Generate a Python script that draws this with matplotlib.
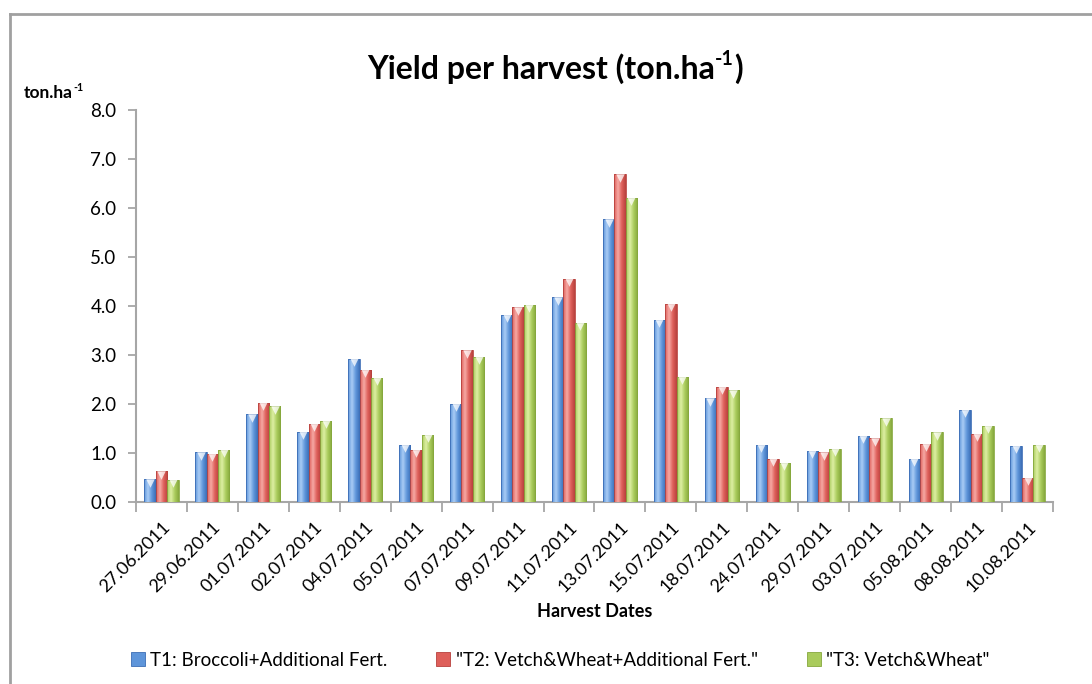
import numpy as np
import matplotlib
matplotlib.use("Agg")
import matplotlib.pyplot as plt
from matplotlib.colors import LinearSegmentedColormap
from matplotlib.patches import Rectangle
from matplotlib.lines import Line2D
from matplotlib.transforms import offset_copy

plt.rcParams['font.family'] = ['Lato', 'DejaVu Sans']

dates = ["27.06.2011", "29.06.2011", "01.07.2011", "02.07.2011", "04.07.2011",
         "05.07.2011", "07.07.2011", "09.07.2011", "11.07.2011", "13.07.2011",
         "15.07.2011", "18.07.2011", "24.07.2011", "29.07.2011", "03.07.2011",
         "05.08.2011", "08.08.2011", "10.08.2011"]
t1 = [0.46, 1.01, 1.79, 1.43, 2.92, 1.17, 2.00, 3.82, 4.18, 5.77, 3.72, 2.12, 1.17, 1.05, 1.35, 0.88, 1.88, 1.15]
t2 = [0.63, 0.98, 2.03, 1.60, 2.70, 1.07, 3.10, 3.97, 4.55, 6.69, 4.05, 2.35, 0.88, 1.01, 1.30, 1.19, 1.39, 0.49]
t3 = [0.45, 1.07, 1.95, 1.66, 2.53, 1.37, 2.96, 4.03, 3.66, 6.21, 2.56, 2.28, 0.80, 1.09, 1.71, 1.42, 1.56, 1.17]
series_names = ["T1: Broccoli+Additional Fert.",
                "\"T2: Vetch&Wheat+Additional Fert.\"",
                "\"T3: Vetch&Wheat\""]
yticks = [0, 1, 2, 3, 4, 5, 6, 7, 8]

# (dark edge, base, light highlight)
palettes = [("#3C6DB5", "#5E95DA", "#A9CCF5"),
            ("#B8413D", "#DE5F5A", "#F6A9A4"),
            ("#86A83D", "#A9CB5C", "#DDEFA3")]

fig = plt.figure(figsize=(10.92, 6.84), dpi=100)
ax = fig.add_axes([0.1245, 0.2661, 0.8398, 0.5731])

x = np.arange(len(dates))
w = 0.224
offs = [-w, 0, w]
all_series = [t1, t2, t3]

for s, (vals, pal, off) in enumerate(zip(all_series, palettes, offs)):
    dark, base, light = pal
    cmap = LinearSegmentedColormap.from_list("g%d" % s, [base, light, base, dark])
    grad = np.linspace(0, 1, 64).reshape(1, -1)
    bars = ax.bar(x + off, vals, width=w, color=base, edgecolor='none', zorder=2)
    for b in bars:
        bx, by = b.get_x(), b.get_y()
        bw, bh = b.get_width(), b.get_height()
        im = ax.imshow(grad, cmap=cmap, aspect='auto',
                       extent=(bx, bx + bw, by, by + bh), zorder=3,
                       interpolation='bilinear')
        im.set_clip_path(b)
        ax.add_patch(Rectangle((bx, by), bw, bh, fill=False,
                               edgecolor=dark, linewidth=0.6, zorder=4))
    ax.scatter(x + off, np.array(vals) - 0.07, marker='v', s=38,
               color='white', alpha=0.75, linewidths=0, zorder=5)

ax.set_xlim(-0.5, len(dates) - 0.5)
ax.set_ylim(0, 8)
ax.set_yticks(yticks)
ax.set_yticklabels(["%.1f" % v for v in yticks], fontsize=13.5)
ax.set_xticks(x)
ax.set_xticklabels(dates, rotation=45, ha='right', va='top',
                   rotation_mode='anchor', fontsize=13)
ax.set_xticks(np.arange(len(dates) + 1) - 0.5, minor=True)
ax.tick_params(axis='x', which='major', length=0, pad=12)
ax.tick_params(axis='x', which='minor', length=7, color='#A6A6A6', width=1.3)
ax.tick_params(axis='y', length=6, color='#A6A6A6', width=1.3, pad=8)
for side in ['top', 'right']:
    ax.spines[side].set_visible(False)
for side in ['left', 'bottom']:
    ax.spines[side].set_color('#A6A6A6')
    ax.spines[side].set_linewidth(1.5)

ax.set_xlabel("Harvest Dates", fontsize=13, fontweight='bold', labelpad=6)


def sup_text(xf, y, base, sup, tail, size, ha='left'):
    """Text with a small raised '-1' superscript, placed piece by piece."""
    renderer = fig.canvas.get_renderer()
    pieces = [(base, size, 0), (sup, size * 0.62, size * 0.42), (tail, size, 0)]
    widths = []
    for txt, sz, _ in pieces:
        t = fig.text(0, 0, txt, fontsize=sz, fontweight='bold')
        widths.append(t.get_window_extent(renderer).width)
        t.remove()
    total = sum(widths)
    x0 = xf * fig.bbox.width
    if ha == 'center':
        x0 -= total / 2
    cur = x0
    for (txt, sz, rise), wd in zip(pieces, widths):
        tr = offset_copy(fig.transFigure, fig=fig, x=0, y=rise, units='points')
        fig.text(cur / fig.bbox.width, y, txt, fontsize=sz, fontweight='bold',
                 ha='left', va='baseline', transform=tr)
        cur += wd


sup_text(0.508, 0.885, "Yield per harvest (ton.ha", "-1", ")", 23, ha='center')
sup_text(0.022, 0.856, "ton.ha", "-1", "", 12.5)

handles = [Rectangle((0, 0), 1, 1, facecolor=p[1], edgecolor=p[0], linewidth=0.6)
           for p in palettes]
fig.legend(handles, series_names, loc='center', bbox_to_anchor=(0.513, 0.035),
           ncol=3, frameon=False, fontsize=13.5, handlelength=0.75,
           handleheight=0.75, handletextpad=0.3, columnspacing=2.6)

# chart-area border (left and top visible)
fig.add_artist(Line2D([0.0092, 0.0092], [0.0, 0.9795], color='#A0A0A0',
                      linewidth=2, transform=fig.transFigure))
fig.add_artist(Line2D([0.0092, 1.0], [0.9795, 0.9795], color='#A0A0A0',
                      linewidth=2, transform=fig.transFigure))

fig.savefig("out.png", dpi=100)
